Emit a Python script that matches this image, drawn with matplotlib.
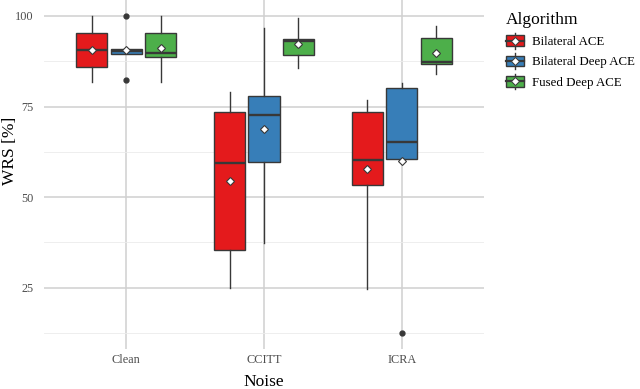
import matplotlib
matplotlib.use("Agg")
import matplotlib.pyplot as plt
from matplotlib.legend_handler import HandlerBase
from matplotlib.patches import Rectangle
from matplotlib.lines import Line2D

plt.rcParams['font.family'] = ['Liberation Serif', 'DejaVu Serif']

noise = ["Clean", "CCITT", "ICRA"]
algorithms = ["Bilateral ACE", "Bilateral Deep ACE", "Fused Deep ACE"]
colors = ["#E41A1C", "#377EB8", "#4DAF4A"]

# per algorithm, per noise condition: [whislo, q1, median, q3, whishi]
bilateral_ace = [[81.7, 85.9, 90.6, 95.4, 100.0],
                 [24.9, 35.3, 59.5, 73.4, 79.1],
                 [24.6, 53.4, 60.3, 73.5, 76.8]]
bilateral_deep_ace = [[89.6, 89.6, 90.2, 90.8, 90.8],
                      [37.3, 59.8, 72.6, 77.9, 96.6],
                      [60.4, 60.4, 65.1, 80.2, 81.6]]
fused_deep_ace = [[81.7, 88.8, 89.7, 95.4, 100.0],
                  [85.5, 89.2, 93.0, 93.5, 99.4],
                  [84.0, 86.8, 87.3, 93.8, 97.1]]
means = [[90.6, 54.5, 57.7],
         [90.6, 68.9, 60.0],
         [91.1, 92.2, 89.9]]
outliers = [[[], [], []],
            [[100.0, 82.2], [], [12.6]],
            [[], [], []]]

series = [bilateral_ace, bilateral_deep_ace, fused_deep_ace]
edge = "#383838"

fig = plt.figure(figsize=(6.4, 3.89), dpi=100)
ax = fig.add_axes([0.068, 0.103, 0.689, 0.897])

offsets = [-0.25, 0.0, 0.25]
for a, stats_list in enumerate(series):
    stats = []
    for n, s in enumerate(stats_list):
        stats.append(dict(whislo=s[0], q1=s[1], med=s[2], q3=s[3], whishi=s[4],
                          fliers=outliers[a][n]))
    pos = [i + offsets[a] for i in range(len(noise))]
    ax.bxp(stats, positions=pos, widths=0.225, patch_artist=True, showcaps=False,
           manage_ticks=False,
           boxprops=dict(facecolor=colors[a], edgecolor=edge, linewidth=1.0),
           medianprops=dict(color=edge, linewidth=1.7),
           whiskerprops=dict(color=edge, linewidth=1.0),
           flierprops=dict(marker='o', markersize=3.5, markerfacecolor=edge,
                           markeredgecolor=edge))
    ax.plot(pos, means[a], linestyle='none', marker='D', markersize=4.5,
            markerfacecolor='white', markeredgecolor=edge, markeredgewidth=0.8, zorder=5)

ax.set_xlim(-0.6, 2.6)
ax.set_ylim(8.1, 104.4)
ax.set_xticks(range(len(noise)))
ax.set_xticklabels(noise)
ax.set_yticks([25, 50, 75, 100])
ax.set_yticks([12.5, 37.5, 62.5, 87.5], minor=True)
ax.grid(True, which='major', color='#d0d0d0', linewidth=1.1)
ax.grid(True, which='minor', axis='y', color='#ebebeb', linewidth=0.6)
ax.set_axisbelow(True)
for sp in ax.spines.values():
    sp.set_visible(False)
ax.tick_params(which='both', length=0, labelsize=8.8, labelcolor='#4d4d4d', pad=7)
ax.tick_params(axis='x', pad=4)
ax.set_xlabel("Noise", fontsize=12.5)
ax.set_ylabel("WRS [%]", fontsize=12.5)
ax.xaxis.set_label_coords(0.5, -0.072)
ax.yaxis.set_label_coords(-0.057, 0.567)


class BoxHandler(HandlerBase):
    def create_artists(self, legend, orig_handle, xdescent, ydescent,
                       width, height, fontsize, trans):
        c = orig_handle.get_facecolor()
        cx = width / 2 - xdescent
        cy = height / 2 - ydescent
        w = width * 0.95
        h = height * 0.8
        arts = [Line2D([cx, cx], [cy - height * 0.6, cy + height * 0.6], color=edge, lw=1.0),
                Rectangle((cx - w / 2, cy - h / 2), w, h, facecolor=c, edgecolor=edge, lw=1.0),
                Line2D([cx - w / 2, cx + w / 2], [cy, cy], color=edge, lw=1.6),
                Line2D([cx], [cy], marker='D', markersize=4.2, markerfacecolor='white',
                       markeredgecolor=edge, markeredgewidth=0.7)]
        for art in arts:
            art.set_transform(trans)
        return arts


handles = [Rectangle((0, 0), 1, 1, facecolor=c) for c in colors]
leg = fig.legend(handles, algorithms, loc='upper left', bbox_to_anchor=(0.774, 0.997),
                 title="Algorithm", frameon=False, fontsize=9.3, title_fontsize=12.5,
                 handler_map={Rectangle: BoxHandler()}, handlelength=1.45,
                 handleheight=1.2, labelspacing=0.5, handletextpad=0.55,
                 borderpad=0.3)
leg._legend_box.align = "left"

fig.savefig("out.png", dpi=100)
